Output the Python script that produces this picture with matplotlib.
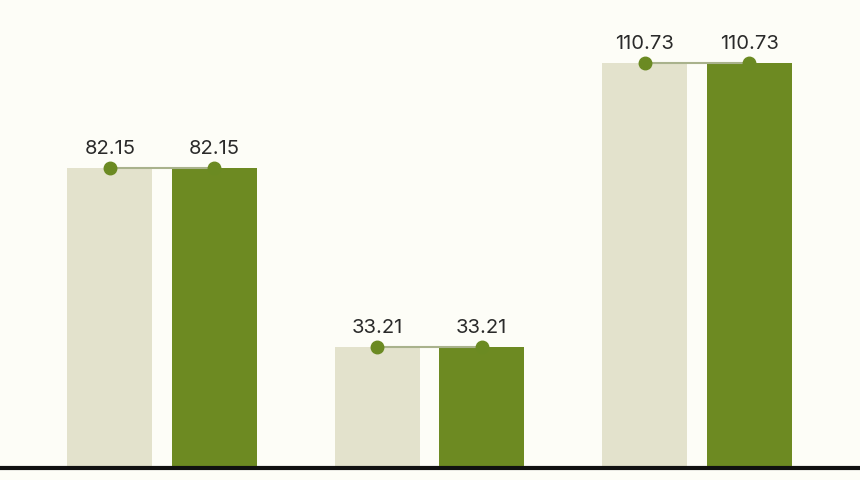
import matplotlib
matplotlib.use("Agg")
import matplotlib.pyplot as plt
import numpy as np

categories = ["A", "B", "C"]
series_prev = [82.15, 33.21, 110.73]
series_curr = [82.15, 33.21, 110.73]
labels_prev = ["82.15", "33.21", "110.73"]
labels_curr = ["82.15", "33.21", "110.73"]

plt.rcParams['font.family'] = ['Inter', 'DejaVu Sans']

bg = "#fdfdf7"
light = "#e3e2cc"
dark = "#6d8a22"
dot = "#6b8a22"
linec = "#a9b28c"

fig = plt.figure(figsize=(8.6, 4.8), dpi=100, facecolor=bg)
ax = fig.add_axes([0, 0.025, 1, 0.975])
ax.set_facecolor(bg)

x = np.arange(len(categories))
w = 0.318
off = 0.195
ax.bar(x - off, series_prev, width=w, color=light, zorder=2)
ax.bar(x + off, series_curr, width=w, color=dark, zorder=2)

for i in range(len(categories)):
    ax.plot([x[i] - off, x[i] + off], [series_prev[i], series_curr[i]],
            color=linec, lw=1.5, zorder=3)
    ax.plot([x[i] - off, x[i] + off], [series_prev[i], series_curr[i]],
            'o', color=dot, ms=9, zorder=4)
    ax.annotate(labels_prev[i], (x[i] - off, series_prev[i]), xytext=(0, 7),
                textcoords='offset points', ha='center', va='bottom',
                fontsize=14.5, color="#2a2a2a")
    ax.annotate(labels_curr[i], (x[i] + off, series_curr[i]), xytext=(0, 7),
                textcoords='offset points', ha='center', va='bottom',
                fontsize=14.5, color="#2a2a2a")

ax.set_xlim(-0.606, 2.609)
ax.set_ylim(0, 128)
for s in ["top", "right", "left"]:
    ax.spines[s].set_visible(False)
ax.spines["bottom"].set_linewidth(3)
ax.spines["bottom"].set_color("#111111")
ax.set_xticks([])
ax.set_yticks([])

fig.savefig("out.png", dpi=100, facecolor=bg)
